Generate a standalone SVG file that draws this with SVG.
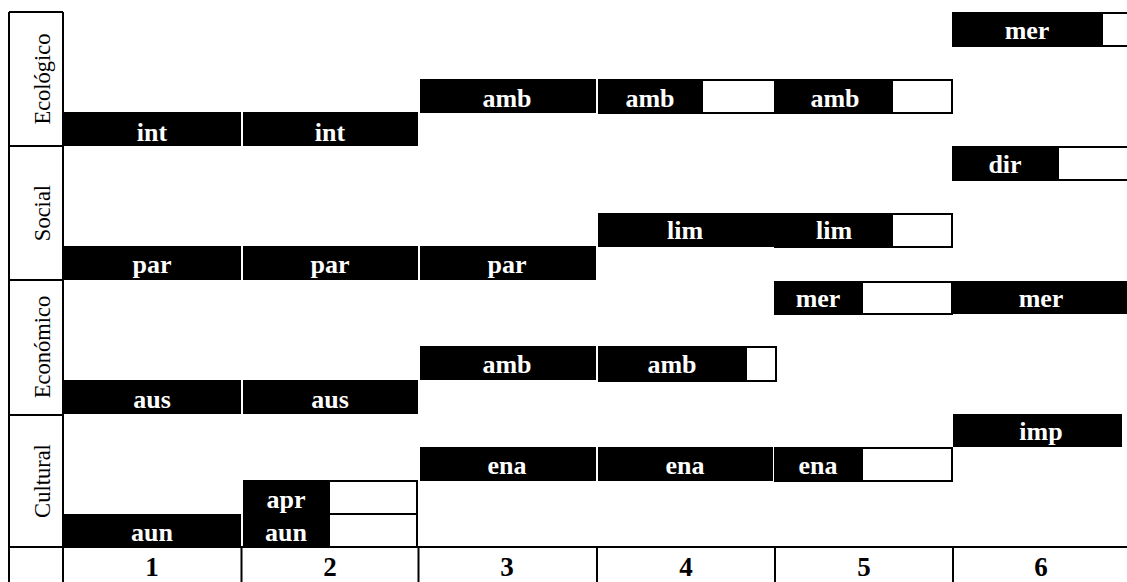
<svg xmlns="http://www.w3.org/2000/svg" width="1127" height="582" viewBox="0 0 1127 582">
<style>
.bar{fill:#000}
.box{fill:#fff;stroke:#000;stroke-width:2}
text{font-family:'Liberation Serif','Times New Roman','DejaVu Serif',serif}
.lbl{font-weight:bold;font-size:26px;fill:#fff;text-anchor:middle}
.num{font-weight:bold;font-size:27px;fill:#000;text-anchor:middle}
.row{font-size:22.5px;fill:#000;text-anchor:middle}
.grid{stroke:#000;stroke-width:2;fill:none}
</style>
<rect width="1127" height="582" fill="#fff"/>
<g id="grid">
<path class="grid" d="M9 12H63M9 12V582M63 12V582M9 146H63M9 280H63M9 415H63M9 547H1127M241.5 547V582M418.5 547V582M597 547V582M775 547V582M953 547V582"/>
</g>
<g id="row-labels">
<text class="row" transform="translate(50,79) rotate(-90)">Ecológico</text>
<text class="row" transform="translate(50,213) rotate(-90)">Social</text>
<text class="row" transform="translate(50,347) rotate(-90)">Económico</text>
<text class="row" transform="translate(50,481) rotate(-90)">Cultural</text>
</g>
<g id="numbers">
<text class="num" x="152" y="576">1</text>
<text class="num" x="330" y="576">2</text>
<text class="num" x="507" y="576">3</text>
<text class="num" x="686" y="576">4</text>
<text class="num" x="864" y="576">5</text>
<text class="num" x="1041" y="576">6</text>
</g>
<g id="eco-int-1"><rect class="bar" x="63" y="112" width="178" height="34"/><text class="lbl" x="152" y="141">int</text></g>
<g id="eco-int-2"><rect class="bar" x="243" y="112" width="175" height="34"/><text class="lbl" x="330" y="141">int</text></g>
<g id="eco-amb-3"><rect class="bar" x="420" y="79" width="176" height="34"/><text class="lbl" x="507" y="107">amb</text></g>
<g id="eco-amb-4"><rect class="box" x="599" y="80" width="176" height="33"/><rect class="bar" x="598" y="79" width="105" height="35"/><text class="lbl" x="650" y="107">amb</text></g>
<g id="eco-amb-5"><rect class="box" x="777" y="80" width="175" height="33"/><rect class="bar" x="776" y="79" width="117" height="35"/><text class="lbl" x="835" y="107">amb</text></g>
<g id="eco-mer-6"><rect class="box" x="953" y="13" width="176" height="33"/><rect class="bar" x="952" y="12" width="151" height="35"/><text class="lbl" x="1027" y="39">mer</text></g>
<g id="soc-par-1"><rect class="bar" x="63" y="246" width="178" height="34"/><text class="lbl" x="152" y="273">par</text></g>
<g id="soc-par-2"><rect class="bar" x="243" y="246" width="175" height="34"/><text class="lbl" x="330" y="273">par</text></g>
<g id="soc-par-3"><rect class="bar" x="420" y="246" width="176" height="34"/><text class="lbl" x="507" y="273">par</text></g>
<g id="soc-lim-4"><rect class="bar" x="598" y="213" width="176" height="34"/><text class="lbl" x="685" y="239">lim</text></g>
<g id="soc-lim-5"><rect class="box" x="775" y="214" width="177" height="33"/><rect class="bar" x="776" y="213" width="117" height="35"/><text class="lbl" x="834" y="239">lim</text></g>
<g id="soc-dir-6"><rect class="box" x="953" y="147" width="176" height="33"/><rect class="bar" x="952" y="146" width="107" height="35"/><text class="lbl" x="1005" y="173">dir</text></g>
<g id="eco2-mer-5"><rect class="box" x="775" y="282" width="177" height="32"/><rect class="bar" x="774" y="281" width="89" height="34"/><text class="lbl" x="818" y="307">mer</text></g>
<g id="eco2-mer-6"><rect class="bar" x="953" y="281" width="174" height="33"/><text class="lbl" x="1041" y="307">mer</text></g>
<g id="eco2-amb-3"><rect class="bar" x="420" y="346" width="176" height="34"/><text class="lbl" x="507" y="373">amb</text></g>
<g id="eco2-amb-4"><rect class="box" x="599" y="347" width="177" height="34"/><rect class="bar" x="598" y="346" width="149" height="36"/><text class="lbl" x="672" y="373">amb</text></g>
<g id="eco2-aus-1"><rect class="bar" x="63" y="380" width="178" height="34"/><text class="lbl" x="152" y="408">aus</text></g>
<g id="eco2-aus-2"><rect class="bar" x="243" y="380" width="175" height="34"/><text class="lbl" x="330" y="408">aus</text></g>
<g id="cul-imp-6"><rect class="bar" x="953" y="414" width="169" height="33"/><text class="lbl" x="1041" y="440">imp</text></g>
<g id="cul-ena-3"><rect class="bar" x="420" y="447" width="176" height="34"/><text class="lbl" x="507" y="474">ena</text></g>
<g id="cul-ena-4"><rect class="bar" x="598" y="447" width="175" height="34"/><text class="lbl" x="685" y="474">ena</text></g>
<g id="cul-ena-5"><rect class="box" x="775" y="448" width="177" height="33"/><rect class="bar" x="774" y="447" width="89" height="35"/><text class="lbl" x="818" y="474">ena</text></g>
<g id="cul-apr-2"><rect class="box" x="244" y="481" width="173" height="33"/><rect class="bar" x="243" y="480" width="87" height="35"/><text class="lbl" x="286" y="508">apr</text></g>
<g id="cul-aun-2"><rect class="box" x="244" y="514" width="173" height="33"/><rect class="bar" x="243" y="514" width="87" height="33"/><text class="lbl" x="286" y="541">aun</text></g>
<g id="cul-aun-1"><rect class="bar" x="63" y="514" width="178" height="33"/><text class="lbl" x="152" y="541">aun</text></g>
<g id="connectors"></g>
</svg>
